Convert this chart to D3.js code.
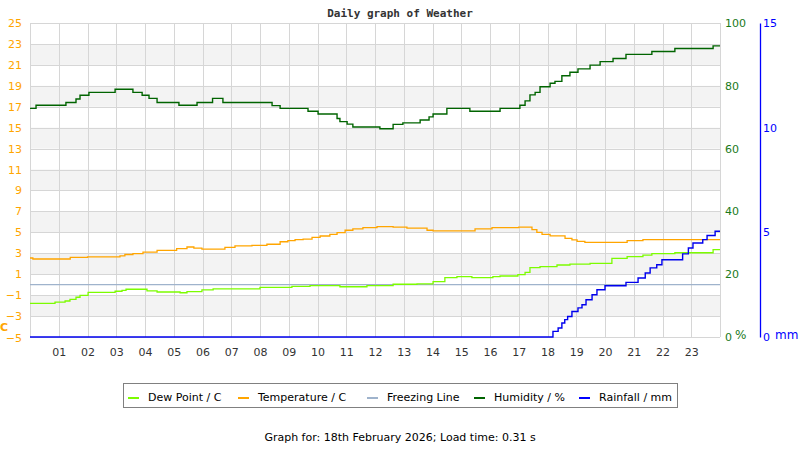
<!DOCTYPE html>
<html>
<head>
<meta charset="utf-8">
<script src="https://cdn.jsdelivr.net/npm/d3@7"></script>
<style>
  body { margin: 0; background: #fff; }
  svg { font-family: "DejaVu Sans", sans-serif; font-size: 11px; }
</style>
</head>
<body>
<svg id="chart" width="800" height="450"></svg>
<script>
// values, [hour, value], stepped
const humidity = [
  [0, 72.8], [0.21, 73.8], [1.25, 74.7], [1.6, 75.8], [1.74, 77], [2.05, 77.9],
  [2.96, 78.9], [3.58, 77.9], [3.9, 77], [4.14, 76], [4.42, 74.7], [5.18, 73.8],
  [5.81, 74.7], [6.35, 76], [6.71, 74.7], [8.42, 73.7], [8.7, 72.8], [9.67, 71.9],
  [10.02, 71], [10.68, 69.6], [10.78, 68.6], [11.03, 67.8], [11.23, 66.9], [12.17, 66.3],
  [12.63, 67.7], [12.97, 68.2], [13.57, 69.1], [13.88, 70.1], [14.02, 71], [14.5, 72.8],
  [15.3, 71.9], [16.35, 72.8], [17.04, 73.8], [17.22, 75.2], [17.39, 77.1], [17.57, 77.9],
  [17.74, 79.7], [18.09, 80.8], [18.26, 81.4], [18.5, 83.2], [18.78, 84.3], [19.06, 85.4],
  [19.48, 86.6], [19.83, 87.7], [20.28, 88.7], [20.73, 90], [21.63, 90.9], [22.43, 91.9],
  [23.76, 92.7], [24, 92.7]
];

const temperature = [
  [0, 2.55], [0.1, 2.45], [1.4, 2.6], [2.0, 2.65], [3.13, 2.75], [3.3, 2.88],
  [3.58, 2.96], [3.93, 3.1], [4.42, 3.28], [5.1, 3.44], [5.46, 3.6], [5.7, 3.5],
  [5.98, 3.4], [6.78, 3.57], [7.13, 3.7], [7.72, 3.76], [8.24, 3.86], [8.7, 4.1],
  [8.97, 4.2], [9.22, 4.3], [9.5, 4.36], [9.81, 4.52], [10.09, 4.65], [10.43, 4.8],
  [10.68, 4.97], [10.96, 5.2], [11.23, 5.33], [11.58, 5.45], [12.07, 5.55], [12.63, 5.5],
  [13.11, 5.4], [13.81, 5.2], [14.02, 5.13], [15.48, 5.33], [16.07, 5.45], [17.0, 5.5],
  [17.46, 5.25], [17.63, 5.0], [17.81, 4.8], [18.09, 4.67], [18.61, 4.42], [18.85, 4.27],
  [19.03, 4.14], [19.3, 4.04], [20.77, 4.2], [21.32, 4.3], [24, 4.3]
];

const dewPoint = [
  [0, -1.78], [0.87, -1.66], [1.22, -1.56], [1.39, -1.4], [1.6, -1.2], [1.74, -1.02],
  [2.02, -0.73], [2.96, -0.63], [3.2, -0.54], [3.34, -0.44], [4.07, -0.6], [4.42, -0.7],
  [5.22, -0.77], [5.46, -0.67], [5.98, -0.5], [6.37, -0.41], [8.0, -0.25], [9.11, -0.16],
  [9.74, -0.1], [10.78, -0.2], [11.72, -0.1], [12.63, 0.04], [13.46, 0.07], [14.02, 0.29],
  [14.43, 0.67], [14.85, 0.76], [15.37, 0.67], [16.1, 0.76], [16.35, 0.83], [16.97, 0.95],
  [17.22, 1.18], [17.39, 1.62], [17.74, 1.72], [18.33, 1.88], [18.78, 1.97], [19.48, 2.04],
  [20.24, 2.52], [20.77, 2.67], [21.32, 2.83], [21.63, 2.96], [22.43, 3.05], [23.76, 3.34],
  [24, 3.34]
];

const rainfall = [
  [0, 0], [18.19, 0.27], [18.37, 0.43], [18.5, 0.67], [18.6, 0.83], [18.7, 0.98],
  [18.85, 1.22], [19.06, 1.39], [19.2, 1.54], [19.34, 1.78], [19.55, 2.02], [19.72, 2.26],
  [20.0, 2.45], [20.73, 2.61], [21.15, 2.82], [21.4, 3.06], [21.57, 3.3], [21.8, 3.45],
  [21.98, 3.69], [22.7, 3.97], [22.9, 4.25], [23.06, 4.49], [23.4, 4.65], [23.55, 4.85],
  [23.83, 5.05], [24, 5.05]
];

const tempTicks = d3.range(-5, 26, 2);
const humTicks = [0, 20, 40, 60, 80, 100];
const rainTicks = [0, 5, 10, 15];
const hourTicks = d3.range(1, 24);

const legendItems = [
  { label: "Dew Point / C", color: "#7cfc00", x: 128 },
  { label: "Temperature / C", color: "#ffa500", x: 238 },
  { label: "Freezing Line", color: "#9fb3cc", x: 367 },
  { label: "Humidity / %", color: "#006400", x: 474 },
  { label: "Rainfall / mm", color: "#0000ff", x: 579 }
];

const svg = d3.select("#chart");
const plotL = 30, plotR = 720, plotT = 23, plotB = 337;

const x = d3.scaleLinear().domain([0, 24]).range([plotL, plotR]);
const yT = d3.scaleLinear().domain([-5, 25]).range([plotB, plotT]);
const yH = d3.scaleLinear().domain([0, 100]).range([plotB, plotT]);
const yR = d3.scaleLinear().domain([0, 15]).range([plotB, plotT]);

// alternating bands
svg.append("g")
  .selectAll("rect")
  .data(tempTicks.filter(t => t < 25 && ((t + 5) % 4 === 2)))
  .join("rect")
  .attr("x", plotL)
  .attr("width", plotR - plotL)
  .attr("y", d => yT(d + 2))
  .attr("height", d => yT(d) - yT(d + 2))
  .attr("fill", "#f3f3f3");

// grid
svg.append("g")
  .attr("stroke", "#d6d6d6")
  .selectAll("line")
  .data(tempTicks)
  .join("line")
  .attr("x1", plotL).attr("x2", plotR)
  .attr("y1", d => Math.round(yT(d)) + 0.5).attr("y2", d => Math.round(yT(d)) + 0.5);

svg.append("g")
  .attr("stroke", "#d6d6d6")
  .selectAll("line")
  .data(d3.range(0, 25))
  .join("line")
  .attr("x1", d => Math.round(x(d)) + 0.5).attr("x2", d => Math.round(x(d)) + 0.5)
  .attr("y1", plotT).attr("y2", plotB);

// freezing line
svg.append("line")
  .attr("x1", plotL).attr("x2", plotR)
  .attr("y1", yT(0)).attr("y2", yT(0))
  .attr("stroke", "#9fb3cc")
  .attr("stroke-width", 1.2);

function drawSeries(data, yScale, color, w) {
  const line = d3.line()
    .x(d => x(d[0]))
    .y(d => yScale(d[1]))
    .curve(d3.curveStepAfter);
  svg.append("path")
    .datum(data)
    .attr("fill", "none")
    .attr("stroke", color)
    .attr("stroke-width", w)
    .attr("d", line);
}

drawSeries(dewPoint, yT, "#7cfc00", 1.3);
drawSeries(temperature, yT, "#ffa500", 1.3);
drawSeries(humidity, yH, "#006400", 1.4);
drawSeries(rainfall, yR, "#0000ee", 1.4);

// left axis (temperature)
const axL = svg.append("g")
  .attr("transform", `translate(${plotL - 8},0)`)
  .call(d3.axisLeft(yT).tickValues(tempTicks).tickSize(0).tickPadding(0));
axL.select(".domain").remove();
axL.selectAll("text")
  .attr("fill", "#ffa500")
  .style("font-size", "11px")
  .style("font-family", "DejaVu Sans, sans-serif");
axL.selectAll(".tick").filter(d => d === -5).select("text").attr("dy", "0.45em");

svg.append("text")
  .attr("x", 0).attr("y", 331)
  .attr("fill", "#ffa500")
  .style("font-size", "11px")
  .style("font-weight", "bold")
  .text("C");

// right axis (humidity)
const axH = svg.append("g")
  .attr("transform", `translate(${plotR + 5},0)`)
  .call(d3.axisRight(yH).tickValues(humTicks).tickSize(0).tickPadding(0));
axH.select(".domain").remove();
axH.selectAll("text")
  .attr("fill", "#1a7a1a")
  .style("font-size", "11px")
  .style("font-family", "DejaVu Sans, sans-serif");

svg.append("text")
  .attr("x", 735).attr("y", 339)
  .attr("fill", "#1a7a1a")
  .style("font-size", "12px")
  .text("%");

// rain axis
const axR = svg.append("g")
  .attr("transform", "translate(760,0)")
  .call(d3.axisRight(yR).tickValues(rainTicks).tickSize(0).tickPadding(3));
axR.select(".domain")
  .attr("stroke", "#0000ff")
  .attr("stroke-width", 1.3);
axR.selectAll("text")
  .attr("fill", "#0000ff")
  .style("font-size", "11px")
  .style("font-family", "DejaVu Sans, sans-serif");

svg.append("text")
  .attr("x", 775).attr("y", 339)
  .attr("fill", "#0000ff")
  .style("font-size", "12px")
  .text("mm");

// hours
const axX = svg.append("g")
  .attr("transform", `translate(0,${plotB + 11})`)
  .call(d3.axisBottom(x).tickValues(hourTicks).tickSize(0).tickPadding(0)
    .tickFormat(d => String(d).padStart(2, "0")));
axX.select(".domain").remove();
axX.selectAll("text")
  .attr("fill", "#333")
  .style("font-size", "11px")
  .style("font-family", "DejaVu Sans, sans-serif");

// title
svg.append("text")
  .attr("x", 400).attr("y", 17)
  .attr("text-anchor", "middle")
  .style("font-family", "DejaVu Sans Mono, monospace")
  .style("font-weight", "bold")
  .style("font-size", "11px")
  .attr("fill", "#333")
  .text("Daily graph of Weather");

// legend
svg.append("rect")
  .attr("x", 123.5).attr("y", 383.5)
  .attr("width", 554).attr("height", 24)
  .attr("fill", "#fff")
  .attr("stroke", "#808080");

const lg = svg.append("g")
  .selectAll("g")
  .data(legendItems)
  .join("g")
  .attr("transform", d => `translate(${d.x},0)`);
lg.append("rect")
  .attr("x", 0).attr("y", 397)
  .attr("width", 11).attr("height", 2)
  .attr("fill", d => d.color);
lg.append("text")
  .attr("x", 20).attr("y", 401)
  .attr("fill", "#000")
  .style("font-size", "11px")
  .text(d => d.label);

svg.append("text")
  .attr("x", 400).attr("y", 441)
  .attr("text-anchor", "middle")
  .attr("fill", "#000")
  .style("font-size", "11px")
  .text("Graph for: 18th February 2026; Load time: 0.31 s");
</script>
</body>
</html>
